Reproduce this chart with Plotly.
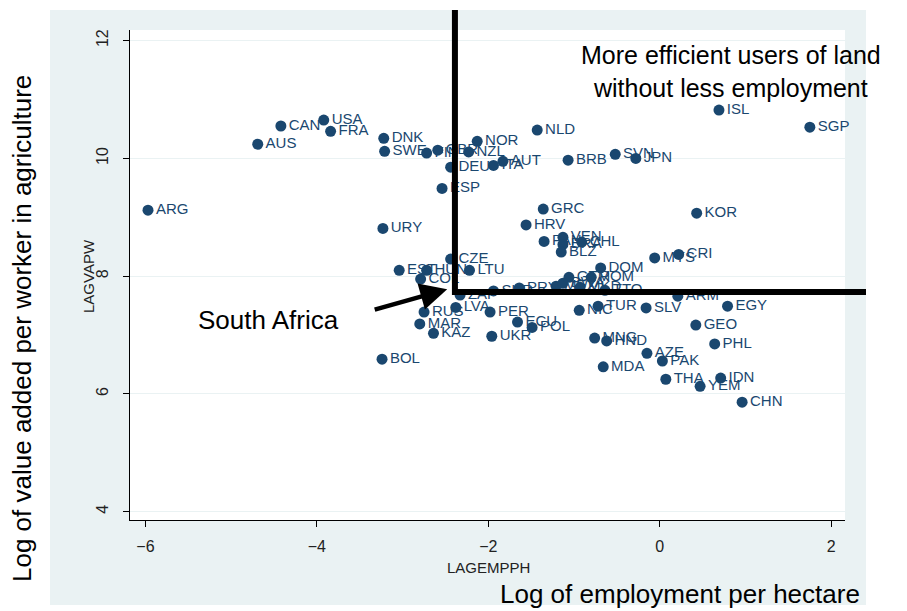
import plotly.graph_objects as go

# ---- data ----
countries = ["ARG", "AUS", "CAN", "USA", "FRA", "DNK", "SWE", "FIN", "GBR", "NZL",
             "NOR", "DEU", "ITA", "AUT", "ESP", "NLD", "BRB", "SVN", "JPN", "ISL",
             "SGP", "GRC", "HRV", "URY", "KOR", "PAN", "VEN", "BRA", "CHL", "BLZ",
             "CZE", "EST", "HUN", "LTU", "COL", "ZAF", "LVA", "RUS", "MAR", "KAZ",
             "PER", "ECU", "POL", "UKR", "BOL", "NIC", "TUR", "SLV", "MNG", "HND",
             "MDA", "AZE", "PAK", "THA", "YEM", "IDN", "CHN", "GEO", "PHL", "EGY",
             "ARM", "TTO", "MYS", "CRI", "DOM", "ROM", "GTM", "SUR", "PRY", "MEX",
             "BWA", "MKD"]
lagempph = [-5.97, -4.69, -4.42, -3.92, -3.84, -3.22, -3.21, -2.72, -2.59, -2.23,
            -2.13, -2.44, -1.94, -1.83, -2.54, -1.43, -1.07, -0.52, -0.28, 0.69,
            1.75, -1.36, -1.56, -3.23, 0.43, -1.35, -1.13, -1.13, -0.91, -1.15,
            -2.44, -3.04, -2.72, -2.22, -2.79, -2.33, -2.38, -2.75, -2.80, -2.64,
            -1.98, -1.66, -1.49, -1.96, -3.24, -0.94, -0.72, -0.16, -0.76, -0.62,
            -0.66, -0.15, 0.03, 0.07, 0.47, 0.71, 0.96, 0.42, 0.64, 0.79,
            0.21, -0.64, -0.06, 0.22, -0.69, -0.80, -1.06, -1.94, -1.64, -1.21,
            -1.13, -0.93]
lagvapw = [9.12, 10.24, 10.55, 10.65, 10.46, 10.34, 10.12, 10.09, 10.14, 10.11,
           10.29, 9.85, 9.88, 9.95, 9.49, 10.48, 9.97, 10.07, 10.00, 10.82,
           10.53, 9.14, 8.87, 8.81, 9.07, 8.59, 8.66, 8.54, 8.58, 8.41,
           8.29, 8.10, 8.10, 8.10, 7.95, 7.68, 7.47, 7.39, 7.19, 7.03,
           7.39, 7.22, 7.13, 6.98, 6.59, 7.42, 7.49, 7.46, 6.95, 6.90,
           6.46, 6.69, 6.56, 6.25, 6.13, 6.27, 5.86, 7.17, 6.85, 7.49,
           7.66, 7.76, 8.31, 8.37, 8.14, 7.98, 7.98, 7.75, 7.80, 7.83,
           7.88, 7.81]
x_ticks = [-6, -4, -2, 0, 2]
y_ticks = [4, 6, 8, 10, 12]
threshold_x = -2.39
threshold_y = 7.73
arrow_head = (-2.48, 7.78)

# ---- layout geometry (page body adds an 8px margin) ----
OFF = 8
W, H = 907 - OFF, 611 - OFF
PL, PR, PT, PB = 130, 845, 30, 520          # plot box in page pixels
ML, MT = PL - OFF, PT - OFF
MR, MB = W - (PR - OFF), H - (PB - OFF)
PW, PH = PR - PL, PB - PT
XR = [-6.18, 2.16]
YR = [3.86, 12.18]


def pxp(p):  # page pixel x -> paper
    return (p - PL) / PW


def pyp(p):  # page pixel y -> paper
    return (PB - p) / PH


def dxp(v):  # data x -> paper
    return (v - XR[0]) / (XR[1] - XR[0])


def dyp(v):  # data y -> paper
    return (v - YR[0]) / (YR[1] - YR[0])


NAVY = "#1a476f"
BG = "#eaf2f3"
FONT = "Liberation Sans, Arial, sans-serif"

fig = go.Figure()
fig.add_trace(go.Scatter(
    x=lagempph, y=lagvapw, text=countries,
    mode="markers+text", textposition="middle right",
    marker=dict(color=NAVY, size=11),
    textfont=dict(color=NAVY, size=15, family=FONT),
    cliponaxis=False, showlegend=False,
))

shapes = [
    dict(type="rect", xref="paper", yref="paper", layer="below",
         x0=pxp(50), x1=pxp(866), y0=pyp(605), y1=pyp(10),
         fillcolor=BG, line=dict(width=0)),
    dict(type="rect", xref="paper", yref="paper", layer="below",
         x0=0, x1=1, y0=0, y1=1, fillcolor="white", line=dict(width=0)),
    dict(type="line", xref="paper", yref="paper",
         x0=dxp(threshold_x), x1=dxp(threshold_x),
         y0=dyp(threshold_y) - 3 / PH, y1=pyp(10),
         line=dict(color="black", width=6)),
    dict(type="line", xref="paper", yref="paper",
         x0=dxp(threshold_x), x1=pxp(866),
         y0=dyp(threshold_y), y1=dyp(threshold_y),
         line=dict(color="black", width=6)),
]

annotations = [
    dict(text="More efficient users of land<br>without less employment",
         xref="paper", yref="paper", x=pxp(731), y=pyp(71),
         xanchor="center", yanchor="middle", showarrow=False,
         font=dict(size=25, color="black", family=FONT)),
    dict(text="South Africa", xref="paper", yref="paper",
         x=pxp(268), y=pyp(320), xanchor="center", yanchor="middle",
         showarrow=False, font=dict(size=26, color="black", family=FONT)),
    dict(text="Log of employment per hectare", xref="paper", yref="paper",
         x=pxp(862), y=pyp(594), xanchor="right", yanchor="middle",
         showarrow=False, font=dict(size=26, color="black", family=FONT)),
    dict(text="Log of value added per worker in agriculture", xref="paper",
         yref="paper", x=pxp(22), y=pyp(329), xanchor="center",
         yanchor="middle", textangle=-90, showarrow=False,
         font=dict(size=26, color="black", family=FONT)),
    dict(text="LAGEMPPH", xref="paper", yref="paper",
         x=pxp(488), y=pyp(567), xanchor="center", yanchor="middle",
         showarrow=False, font=dict(size=15, color="#222", family=FONT)),
    dict(text="LAGVAPW", xref="paper", yref="paper",
         x=pxp(88), y=pyp(276), xanchor="center", yanchor="middle",
         textangle=-90, showarrow=False,
         font=dict(size=15, color="#222", family=FONT)),
    dict(text="", x=arrow_head[0], y=arrow_head[1], xref="x", yref="y",
         showarrow=True, ax=-74, ay=21, arrowhead=2, arrowsize=1.2,
         arrowwidth=4.5, arrowcolor="black"),
]

fig.update_layout(
    width=W, height=H,
    margin=dict(l=ML, r=MR, t=MT, b=MB, autoexpand=False),
    paper_bgcolor="white", plot_bgcolor="white",
    font=dict(family=FONT, color="black"),
    shapes=shapes, annotations=annotations,
    xaxis=dict(range=XR, tickvals=x_ticks, ticks="outside", ticklen=6,
               tickcolor="black", showline=True, linecolor="black",
               linewidth=1, showgrid=False, zeroline=False,
               ticklabelstandoff=6,
               tickfont=dict(size=16, color="#222"),
               automargin=False),
    yaxis=dict(range=YR, tickvals=y_ticks, ticks="outside", ticklen=6,
               tickcolor="black", showline=True, linecolor="black",
               linewidth=1, showgrid=True, gridcolor=BG, gridwidth=1,
               zeroline=False, tickangle=-90, ticklabelstandoff=9,
               tickfont=dict(size=16, color="#222"),
               automargin=False),
)

fig.write_html("out.html")
